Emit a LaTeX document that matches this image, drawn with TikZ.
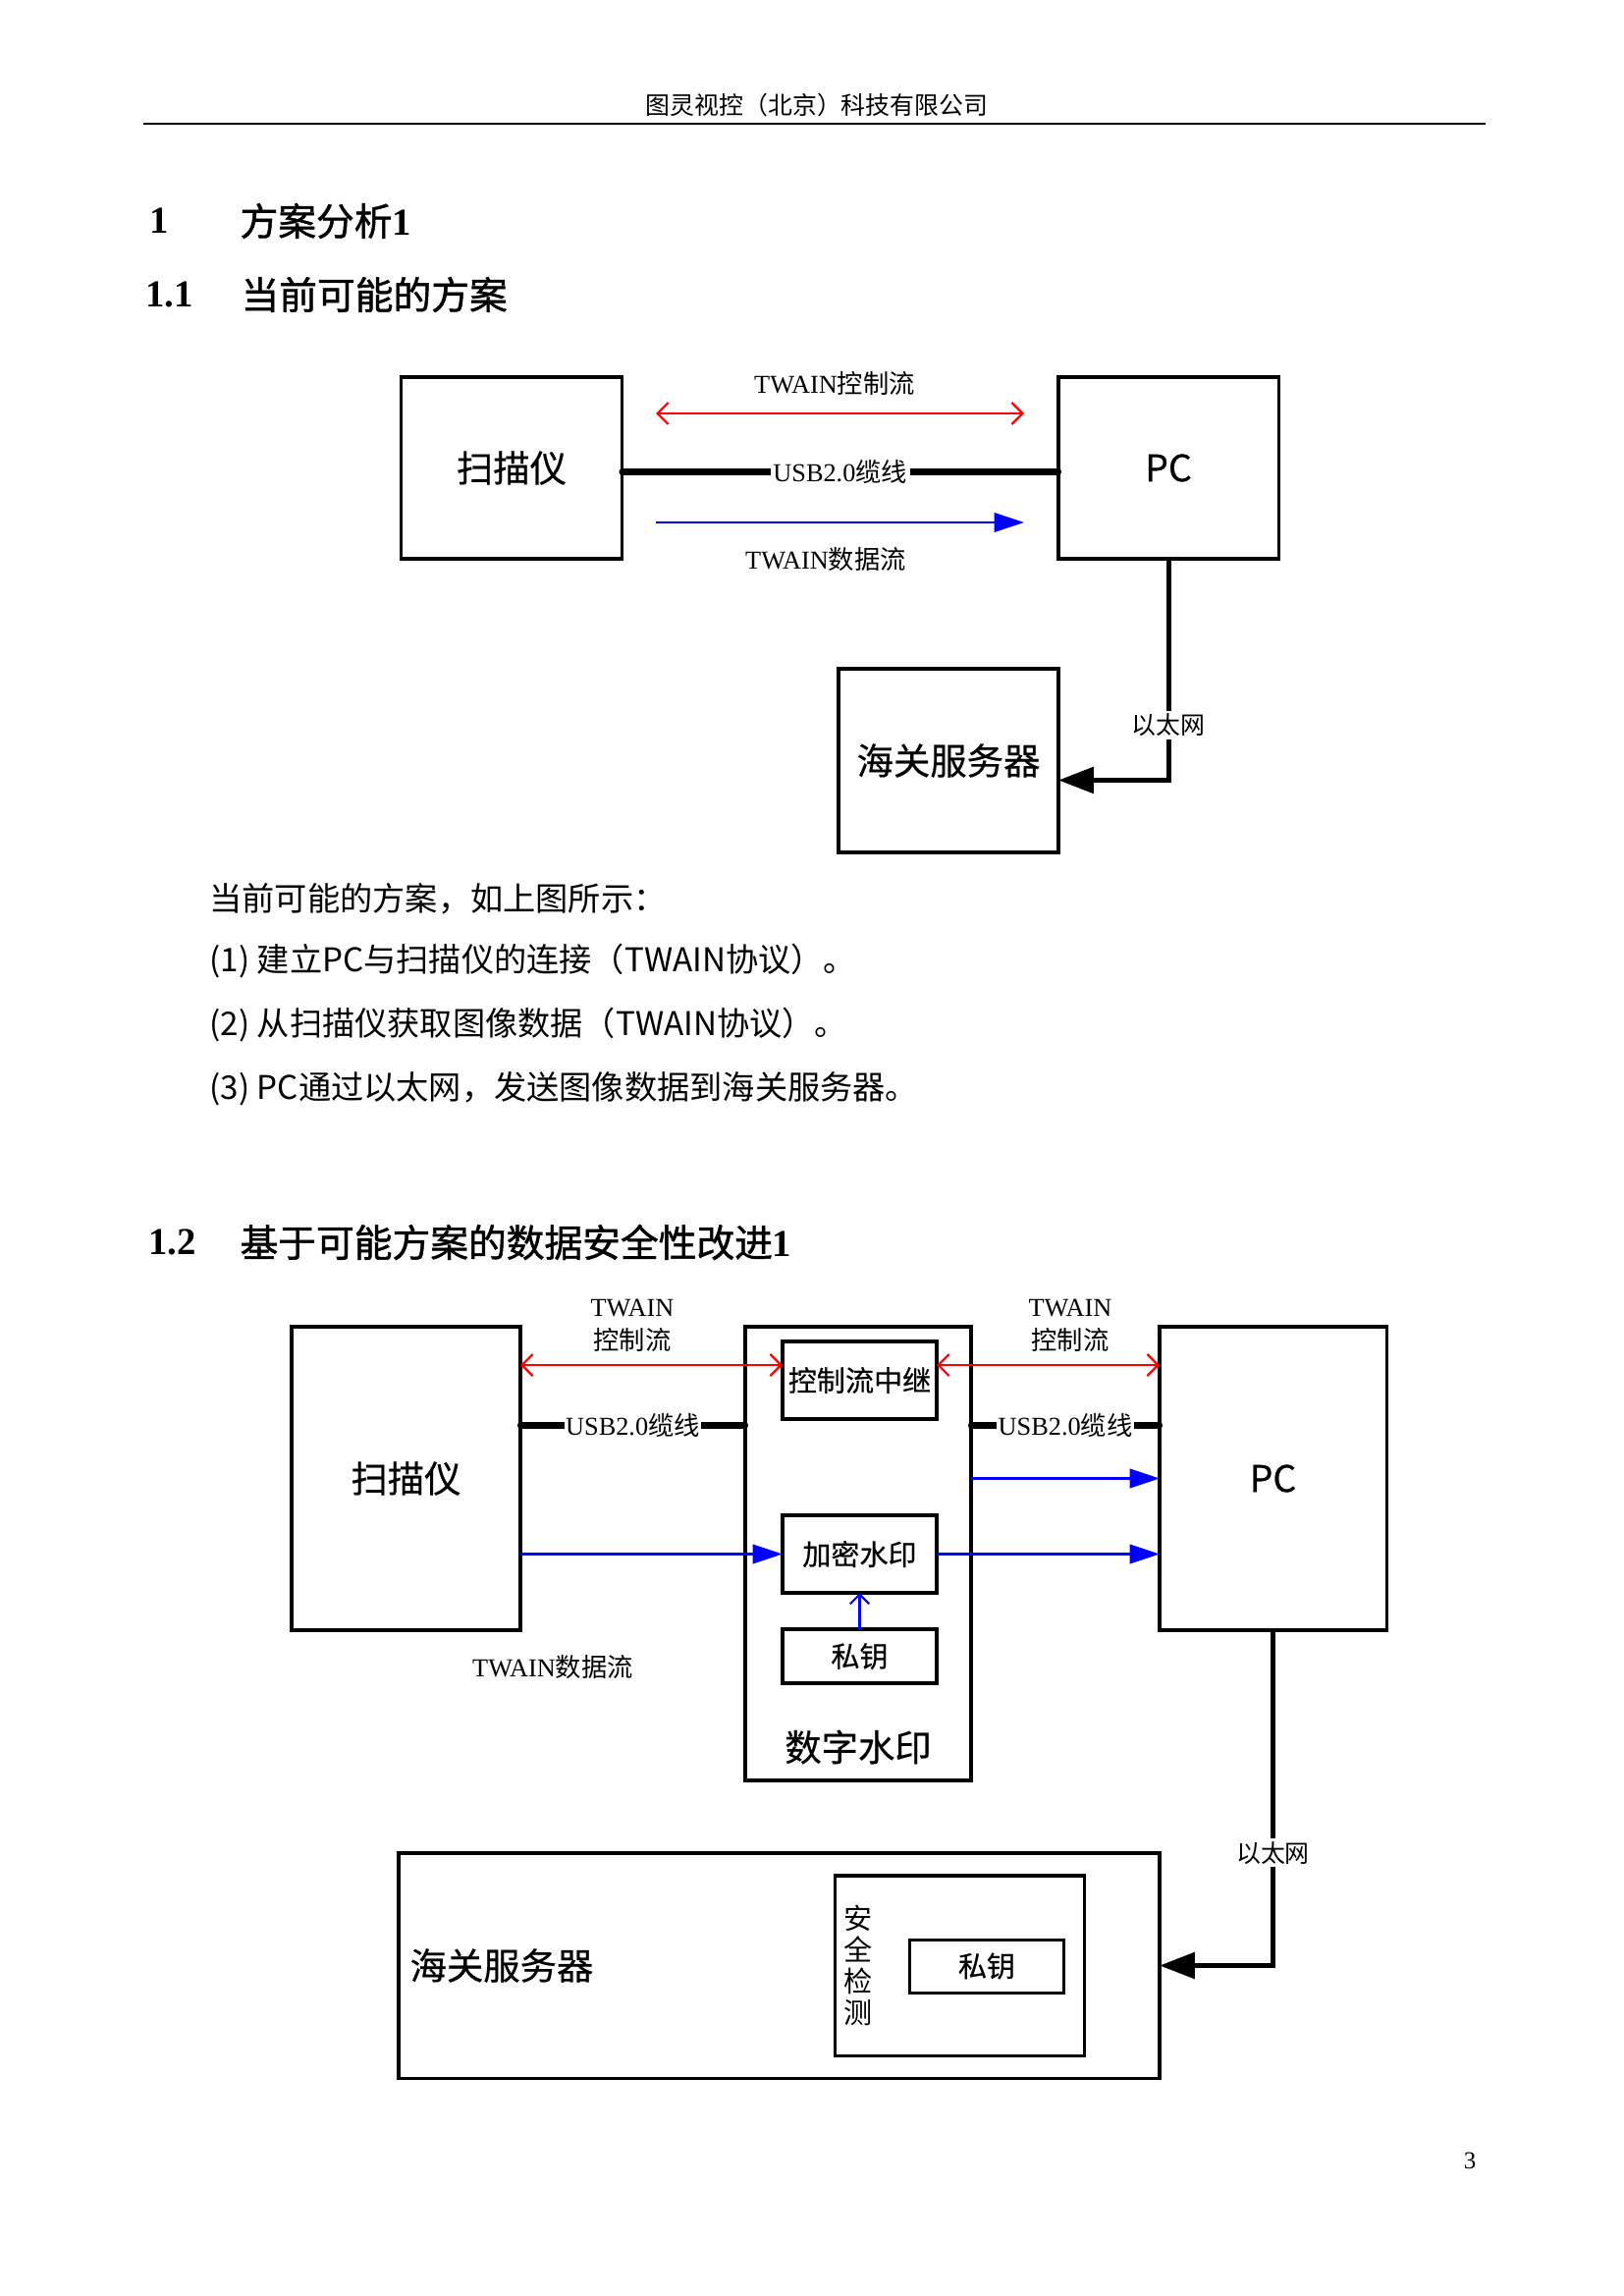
\documentclass[tikz,border=0pt]{standalone}
\usepackage{fontspec}
\setmainfont{Liberation Serif}
\newfontfamily\cjk{Noto Sans CJK SC}
\newfontfamily\cjkh{Noto Sans CJK SC}[FakeBold=1.2]
\newfontfamily\cjkm{Noto Sans CJK SC}[FakeBold=0.5]
\usetikzlibrary{arrows.meta,calc}
\newcommand\pxu{0.36135pt}
\newcommand\fsz[1]{\fontsize{#1}{#1}\selectfont}
\begin{document}
\begin{tikzpicture}[x=0.36135pt,y=-0.36135pt,
  box/.style={draw, line width=1.1pt, inner sep=0pt, outer sep=0pt},
  big/.style={font=\fsz{13.5}\cjkm},
  small/.style={font=\fsz{10.5}\cjkm},
  ctl/.style={red, line width=0.8pt, {Straight Barb[length=4pt,width=8pt]}-{Straight Barb[length=4pt,width=8pt]}},
  dat/.style={blue, line width=1pt, -{Triangle[length=11pt,width=7pt]}},
  usb/.style={line width=2.2pt, line cap=round},
  eth/.style={line width=1.8pt, -{Triangle[length=13pt,width=9.5pt]}},
  lbl/.style={font=\fsz{9.5}, inner sep=1pt},
  wlbl/.style={lbl, fill=white},
  body/.style={anchor=west, font=\fsz{12}\cjk, inner sep=0pt},
  head/.style={anchor=west, font=\fsz{14}, inner sep=0pt}
]
\useasboundingbox[fill=white] (0,0) rectangle (1653,2338);

% page header
\node[font=\fsz{9}\cjk] (hdr) at (832,107) {图灵视控（北京）科技有限公司};
\coordinate (hl) at (146,126);
\coordinate (hr) at (1513,126);
\draw[line width=0.9pt] (hl) -- (hr);

% headings
\node[head] (h1n) at (152,225) {\textbf{1}};
\node[head] (h1t) at (244,225) {{\cjkh 方案分析}\textbf{1}};
\node[head] (h11n) at (148,300) {\textbf{1.1}};
\node[head] (h11t) at (245,300) {\cjkh 当前可能的方案};

% ---------- diagram 1 ----------
\node[box, big, minimum width=225*\pxu, minimum height=185*\pxu] (scan1) at (521,476.5) {扫描仪};
\node[box, big, minimum width=224*\pxu, minimum height=185*\pxu] (pc1) at (1190,476.5) {PC};
\node[box, big, minimum width=224*\pxu, minimum height=187*\pxu] (srv1) at (966,774.5) {海关服务器};

\draw[ctl] ([shift={(34.5,-55.5)}]scan1.east) -- ([shift={(-35,-55.5)}]pc1.west);
\node[lbl] (l1a) at (850,390) {TWAIN{\cjk 控制流}};
\draw[usb] ([shift={(0,4)}]scan1.east) -- ([shift={(0,4)}]pc1.west)
  node[wlbl, midway] (l1b) {USB2.0{\cjk 缆线}};
\draw[dat] ([shift={(34.5,55.5)}]scan1.east) -- ([shift={(-35,55.5)}]pc1.west);
\node[lbl] (l1c) at (841,570) {TWAIN{\cjk 数据流}};

\coordinate (e1) at ([shift={(0,20)}]srv1.east);
\draw[eth] (pc1.south) |- (e1) node[wlbl, pos=0.376, font=\fsz{9}\cjk] (l1d) {以太网};

% body text
\node[body] (t1) at (213,915) {当前可能的方案，如上图所示：};
\node[body] (t2) at (213,979) {(1) 建立PC与扫描仪的连接（TWAIN协议）。};
\node[body] (t3) at (213,1044) {(2) 从扫描仪获取图像数据（TWAIN协议）。};
\node[body] (t4) at (213,1109) {(3) PC通过以太网，发送图像数据到海关服务器。};

% heading 1.2
\node[head] (h12n) at (151,1265) {\textbf{1.2}};
\node[head] (h12t) at (244,1265) {{\cjkh 基于可能方案的数据安全性改进}\textbf{1}};

% ---------- diagram 2 ----------
\node[box, big, minimum width=233*\pxu, minimum height=309*\pxu] (scan2) at (413.5,1505.5) {扫描仪};
\node[box, minimum width=230*\pxu, minimum height=462*\pxu] (wm) at (874,1582) {};
\node[big] (wmt) at (874,1779) {数字水印};
\node[box, big, minimum width=231*\pxu, minimum height=309*\pxu] (pc2) at (1296.5,1505.5) {PC};
\node[box, small, minimum width=157*\pxu, minimum height=79*\pxu] (relay) at (875.5,1405.5) {控制流中继};
\node[box, small, minimum width=157*\pxu, minimum height=79*\pxu] (enc) at (875.5,1582.5) {加密水印};
\node[box, small, minimum width=157*\pxu, minimum height=55*\pxu] (key1) at (875.5,1686.5) {私钥};

\node[box, minimum width=775*\pxu, minimum height=229*\pxu] (srv2) at (793.5,2001.5) {};
\node[big, anchor=west, inner sep=0pt] (srvt) at ([shift={(11,0)}]srv2.west) {海关服务器};
\node[box, minimum width=254*\pxu, minimum height=183*\pxu] (sec) at (977.5,2001.5) {};
\node[font=\fontsize{10.5}{11.56}\selectfont\cjk, align=center, inner sep=0pt] (sect) at (874,2001) {安\\全\\检\\测};
\node[box, small, minimum width=157*\pxu, minimum height=54*\pxu] (key2) at (1005,2002) {私钥};

% control flow
\coordinate (r1) at ([shift={(0,-15.5)}]relay.west);
\coordinate (r2) at ([shift={(0,-15.5)}]relay.east);
\draw[ctl] (scan2.east |- r1) -- (r1);
\draw[ctl] (r2) -- (pc2.west |- r2);
\node[lbl, align=center, font=\fontsize{9.5}{12.3}\selectfont] (l2a) at (644,1350) {TWAIN\\{\cjk 控制流}};
\node[lbl, align=center, font=\fontsize{9.5}{12.3}\selectfont] (l2b) at (1090,1350) {TWAIN\\{\cjk 控制流}};

% USB cables
\coordinate (u1) at ([shift={(0,-130.5)}]wm.west);
\coordinate (u2) at ([shift={(0,-130.5)}]wm.east);
\draw[usb] (scan2.east |- u1) -- (u1) node[wlbl, midway, inner xsep=0.5pt] (l2c) {USB2.0{\cjk 缆线}};
\draw[usb] (u2) -- (pc2.west |- u2) node[wlbl, midway, inner xsep=0.5pt] (l2d) {USB2.0{\cjk 缆线}};

% data flow
\draw[dat] (wm.east |- pc2.west) -- (pc2.west);
\draw[dat] (scan2.east |- enc.west) -- (enc.west);
\draw[dat] (enc.east) -- (pc2.west |- enc.east);
\draw[blue, line width=0.8pt, -{Straight Barb[length=3.5pt,width=7pt]}] (key1.north) -- (enc.south);
\node[lbl] (l2e) at (563,1698) {TWAIN{\cjk 数据流}};

% ethernet
\draw[eth] (pc2.south) |- (srv2.east) node[wlbl, pos=0.332, font=\fsz{9}\cjk] (l2f) {以太网};

% page number
\node[font=\fsz{9}] (pg) at (1497,2200) {3};
\end{tikzpicture}
\end{document}
